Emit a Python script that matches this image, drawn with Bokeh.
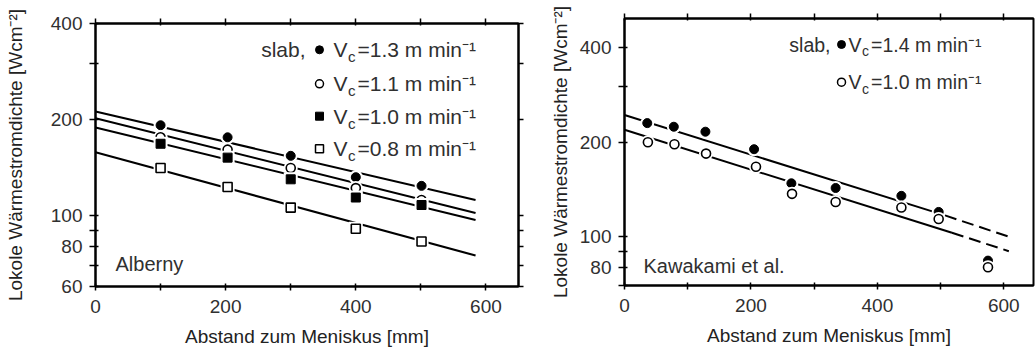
import math
from bokeh.plotting import figure
from bokeh.models import Range1d, FixedTicker, LinearAxis, LogAxis, Label, CustomJSTickFormatter
from bokeh.layouts import row, column
from bokeh.embed import file_html
from bokeh.resources import INLINE

# ---------------- data: Alberny (left panel) ----------------
alb_x = [100, 203, 300, 400, 501]
alb_13 = [192, 176, 154, 132, 124]
alb_11 = [176, 161, 141, 122, 112]
alb_10 = [168, 152, 130, 114, 108]
alb_08 = [141, 123, 106, 91, 83]
alb_fit_x = [0, 584]
alb_fit_13 = [212, 112]
alb_fit_11 = [202, 102]
alb_fit_10 = [189, 97]
alb_fit_08 = [158, 75]

# ---------------- data: Kawakami et al. (right panel) ----------------
kaw_x14 = [36, 78, 128, 205, 264, 334, 438, 497, 575]
kaw_14 = [230, 224, 216, 190, 148, 143, 135, 120, 84]
kaw_x10 = [37, 79, 129, 208, 265, 334, 438, 497, 575]
kaw_10 = [200, 197, 184, 167, 137, 129, 124, 114, 80]
kaw_fit14_x = [0, 507]
kaw_fit14 = [244, 117]
kaw_ext14_x = [507, 615]
kaw_ext14 = [117, 99]
kaw_fit10_x = [0, 518]
kaw_fit10 = [219, 103]
kaw_ext10_x = [518, 608]
kaw_ext10 = [103, 90]

# ---------------- ticks ----------------
x_ticks = [0, 100, 200, 300, 400, 500, 600]
x_tick_labels = {0: "0", 200: "200", 400: "400", 600: "600"}
left_y_ticks = [60, 70, 80, 90, 100, 200, 300, 400]
left_y_labels = {60: "60", 80: "80", 100: "100", 200: "200", 400: "400"}
right_y_ticks = [70, 80, 90, 100, 200, 300, 400]
right_y_labels = {80: "80", 100: "100", 200: "200", 400: "400"}

x_title = "Abstand zum Meniskus [mm]"
y_title = "Lokole Wärmestromdichte [Wcm⁻²]"

FONT = "Liberation Sans"
TXT = "#303030"


def blank_axis(cls, ticks, out, inn):
    return cls(ticker=FixedTicker(ticks=ticks), formatter=CustomJSTickFormatter(code="return ''"),
               major_tick_out=out, major_tick_in=inn, minor_tick_out=0, minor_tick_in=0,
               major_label_standoff=0, major_label_text_font_size="0px",
               axis_line_width=2, major_tick_line_width=1.5)


def make_fig(fw, fh, ml, mr, mt, mb, xr, yr, yticks, ylabels, ylab_standoff, right_axis):
    p = figure(frame_width=fw, frame_height=fh, min_border_left=ml, min_border_right=mr,
               min_border_top=mt, min_border_bottom=mb,
               x_range=Range1d(*xr), y_range=Range1d(*yr), y_axis_type="log",
               output_backend="svg", toolbar_location=None)
    p.grid.visible = False
    p.outline_line_color = "black"
    p.outline_line_width = 2
    p.background_fill_color = "white"
    p.border_fill_color = "white"

    xa = p.xaxis[0]
    xa.ticker = FixedTicker(ticks=x_ticks)
    xa.major_label_overrides = {t: x_tick_labels.get(t, "") for t in x_ticks}
    xa.major_tick_out = 4
    xa.major_tick_in = 3
    xa.minor_tick_out = 0
    xa.minor_tick_in = 0
    xa.major_label_standoff = 9
    xa.axis_label = x_title
    xa.axis_label_standoff = 10

    ya = p.yaxis[0]
    ya.ticker = FixedTicker(ticks=yticks)
    ya.major_label_overrides = {t: ylabels.get(t, "") for t in yticks}
    ya.major_tick_out = 6
    ya.major_tick_in = 3
    ya.minor_tick_out = 0
    ya.minor_tick_in = 0
    ya.major_label_standoff = 7
    ya.axis_label = y_title
    ya.axis_label_standoff = ylab_standoff

    for ax in (xa, ya):
        ax.axis_line_color = "black"
        ax.axis_line_width = 2
        ax.major_tick_line_color = "black"
        ax.major_tick_line_width = 1.5
        ax.major_label_text_font = FONT
        ax.major_label_text_font_size = "19px"
        ax.major_label_text_color = TXT
        ax.axis_label_text_font = FONT
        ax.axis_label_text_font_size = "19px"
        ax.axis_label_text_font_style = "normal"
        ax.axis_label_text_color = "#222222"

    p.add_layout(blank_axis(LinearAxis, x_ticks, 5, 2), "above")
    if right_axis:
        p.add_layout(blank_axis(LogAxis, yticks, 5, 0), "right")
    return p


def to_data(sx, sy_top, xr, yr, fw, fh):
    x = xr[0] + sx / fw * (xr[1] - xr[0])
    l1, l0 = math.log10(yr[1]), math.log10(yr[0])
    return x, 10 ** (l1 - sy_top / fh * (l1 - l0))


def draw_points(p, x, y, kind, filled, size=9):
    p.scatter(x, y, marker=kind, size=size + 5, fill_color="white", line_color=None)
    if filled:
        p.scatter(x, y, marker=kind, size=size, fill_color="black", line_color="black", line_width=1)
    else:
        p.scatter(x, y, marker=kind, size=size, fill_color="white", line_color="black", line_width=1.6)


def text_label(p, x, y, text, fs, align="left"):
    p.add_layout(Label(x=x, y=y, x_units="screen", y_units="screen", text=text,
                       text_font=FONT, text_font_size=f"{fs}px", text_color=TXT,
                       text_baseline="middle", text_align=align))


def legend_row(p, fw, fh, xr, yr, sx_mark, sx_text, sy_center, kind, filled, vtext, fs, msize=8):
    mx, my = to_data(sx_mark, sy_center, xr, yr, fw, fh)
    if filled:
        p.scatter([mx], [my], marker=kind, size=msize, fill_color="black", line_color="black")
    else:
        p.scatter([mx], [my], marker=kind, size=msize, fill_color="white", line_color="black", line_width=1.5)
    yc = fh - sy_center
    cfs = round(fs * 0.72, 1)
    vw = 0.667 * fs
    text_label(p, sx_text, yc, "V", fs)
    text_label(p, sx_text + vw + 0.5, yc - 5 - 0.347 * (fs - cfs), "c", cfs)
    text_label(p, sx_text + vw + 0.5 * cfs + 2.5, yc, vtext, fs)


# ---------------- left panel ----------------
L_FW, L_FH = 423, 263
L_XR, L_YR = (0, 650), (60, 400)
p1 = make_fig(L_FW, L_FH, 95, 12, 23, 61, L_XR, L_YR, left_y_ticks, left_y_labels, 22, True)

for fy in (alb_fit_13, alb_fit_11, alb_fit_10, alb_fit_08):
    p1.line(alb_fit_x, fy, line_color="black", line_width=2)
draw_points(p1, alb_x, alb_13, "circle", True)
draw_points(p1, alb_x, alb_11, "circle", False)
draw_points(p1, alb_x, alb_10, "square", True)
draw_points(p1, alb_x, alb_08, "square", False)

LFS = 21
text_label(p1, 210, L_FH - 26.3, "slab,", LFS, "right")
legend_row(p1, L_FW, L_FH, L_XR, L_YR, 224, 238, 26.3, "circle", True, "=1.3 m min⁻¹", LFS)
legend_row(p1, L_FW, L_FH, L_XR, L_YR, 224, 238, 60.3, "circle", False, "=1.1 m min⁻¹", LFS)
legend_row(p1, L_FW, L_FH, L_XR, L_YR, 224, 238, 92.7, "square", True, "=1.0 m min⁻¹", LFS)
legend_row(p1, L_FW, L_FH, L_XR, L_YR, 224, 238, 125.3, "square", False, "=0.8 m min⁻¹", LFS)
text_label(p1, 20, 23, "Alberny", 20)

# ---------------- right panel ----------------
R_FW, R_FH = 409, 267
R_XR, R_YR = (0, 647), (70, 495)
p2 = make_fig(R_FW, R_FH, 94, 2, 18, 62, R_XR, R_YR, right_y_ticks, right_y_labels, 6, False)

p2.line(kaw_fit14_x, kaw_fit14, line_color="black", line_width=2)
p2.line(kaw_fit10_x, kaw_fit10, line_color="black", line_width=2)
p2.line(kaw_ext14_x, kaw_ext14, line_color="black", line_width=2, line_dash="12 6")
p2.line(kaw_ext10_x, kaw_ext10, line_color="black", line_width=2, line_dash="12 6")
draw_points(p2, kaw_x14, kaw_14, "circle", True)
draw_points(p2, kaw_x10, kaw_10, "circle", False)

RFS = 19.5
text_label(p2, 206, R_FH - 26, "slab,", RFS, "right")
legend_row(p2, R_FW, R_FH, R_XR, R_YR, 217, 224, 26, "circle", True, "=1.4 m min⁻¹", RFS)
legend_row(p2, R_FW, R_FH, R_XR, R_YR, 217, 224, 63.7, "circle", False, "=1.0 m min⁻¹", RFS)
text_label(p2, 19, 20, "Kawakami et al.", 20)

layout = row(column(p1), column(p2))
open("out.html", "w").write(file_html(layout, INLINE))
